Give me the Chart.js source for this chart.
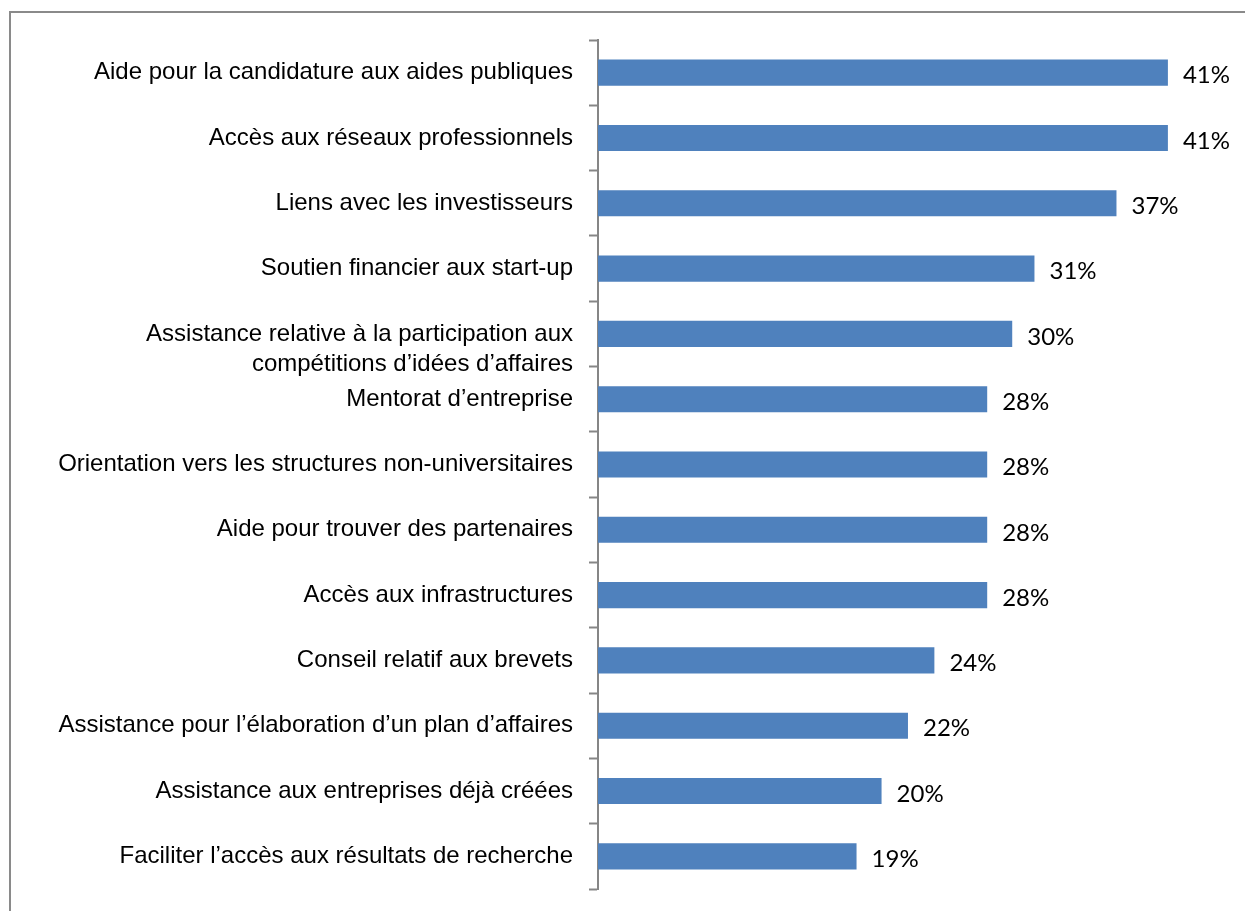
<!DOCTYPE html>
<html lang="fr">
<head>
    <meta charset="UTF-8">
    <title>Services souhaités</title>
    <script src="https://cdn.jsdelivr.net/npm/chart.js"></script>
    <style>
        body {
            margin: 0;
            background-color: white;
            overflow: hidden;
        }
        .frame {
            position: absolute;
            left: 9px;
            top: 11px;
            width: 1400px;
            height: 1000px;
            border-left: 2px solid #8a8a8a;
            border-top: 2px solid #8a8a8a;
        }
        .chart-container {
            position: absolute;
            left: 0;
            top: 0;
            width: 1245px;
            height: 911px;
        }
    </style>
</head>
<body>
    <div class="frame"></div>
    <div class="chart-container">
        <canvas id="barChart" width="1245" height="911"></canvas>
    </div>

    <script>
        // the two-line label sits a little below its bar in the original, hence the empty first line
        const categories = [
            'Aide pour la candidature aux aides publiques',
            'Accès aux réseaux professionnels',
            'Liens avec les investisseurs',
            'Soutien financier aux start-up',
            ['', 'Assistance relative à la participation aux', 'compétitions d\u2019idées d\u2019affaires'],
            'Mentorat d\u2019entreprise',
            'Orientation vers les structures non-universitaires',
            'Aide pour trouver des partenaires',
            'Accès aux infrastructures',
            'Conseil relatif aux brevets',
            'Assistance pour l\u2019élaboration d\u2019un plan d\u2019affaires',
            'Assistance aux entreprises déjà créées',
            'Faciliter l\u2019accès aux résultats de recherche'
        ];
        const values = [41.0, 41.0, 37.3, 31.4, 29.8, 28.0, 28.0, 28.0, 28.0, 24.2, 22.3, 20.4, 18.6];

        // draws the "41%" style labels to the right of each bar
        const valueLabels = {
            id: 'valueLabels',
            afterDatasetsDraw(chart) {
                const ctx = chart.ctx;
                const meta = chart.getDatasetMeta(0);
                ctx.save();
                ctx.font = "24px Lato, 'Open Sans', sans-serif";
                ctx.fillStyle = '#000';
                ctx.textAlign = 'left';
                ctx.textBaseline = 'middle';
                meta.data.forEach((bar, i) => {
                    ctx.fillText(Math.round(values[i]) + '%', bar.x + 15, bar.y + 3);
                });
                ctx.restore();
            }
        };

        const ctx = document.getElementById('barChart').getContext('2d');
        new Chart(ctx, {
            type: 'bar',
            data: {
                labels: categories,
                datasets: [{
                    data: values,
                    backgroundColor: '#4f81bd',
                    borderWidth: 0,
                    categoryPercentage: 1,
                    barPercentage: 0.4
                }]
            },
            options: {
                indexAxis: 'y',
                responsive: false,
                animation: false,
                layout: {
                    padding: { top: 40, bottom: 22, left: 0, right: 21.5 }
                },
                scales: {
                    x: {
                        display: false,
                        min: 0,
                        max: 45
                    },
                    y: {
                        offset: true,
                        afterFit(scale) {
                            scale.width = 598;
                            scale.paddingTop = 0;
                            scale.paddingBottom = 0;
                        },
                        border: {
                            display: true,
                            color: '#868686',
                            width: 2
                        },
                        grid: {
                            offset: true,
                            drawOnChartArea: false,
                            drawTicks: true,
                            tickLength: 9,
                            tickWidth: 2,
                            tickColor: '#868686'
                        },
                        ticks: {
                            autoSkip: false,
                            padding: 16,
                            color: '#000',
                            font: {
                                family: "'Liberation Sans', Arial, sans-serif",
                                size: 24,
                                lineHeight: 1.25
                            }
                        }
                    }
                },
                plugins: {
                    legend: { display: false },
                    title: { display: false },
                    tooltip: { enabled: false }
                }
            },
            plugins: [valueLabels]
        });
    </script>
</body>
</html>
